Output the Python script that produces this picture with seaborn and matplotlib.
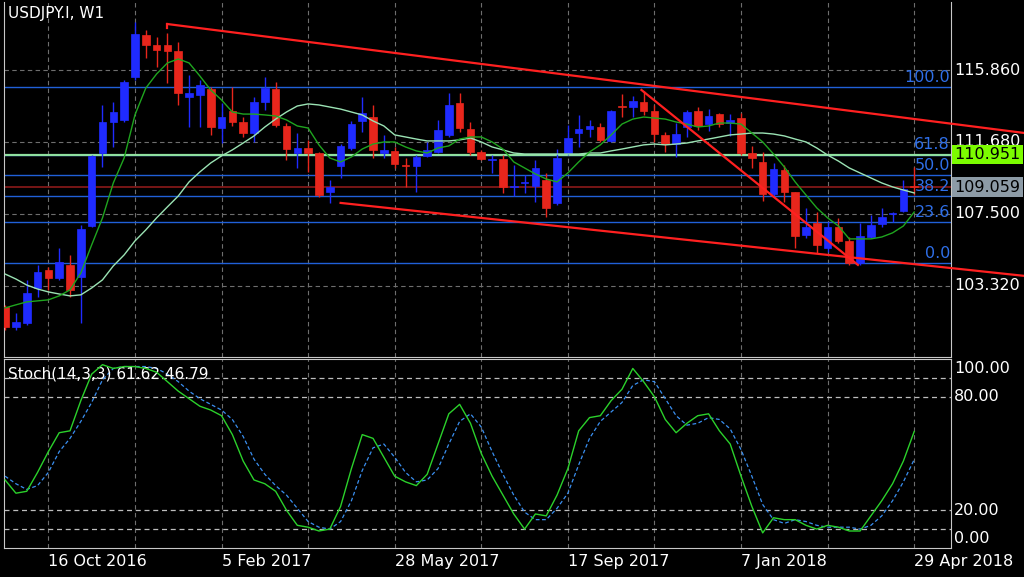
import numpy as np
import pandas as pd
import matplotlib
matplotlib.use("Agg")
import matplotlib.pyplot as plt
import seaborn as sns

# weekly USDJPY candles (open, high, low, close)
opens = [102.10, 100.94, 101.17, 103.20, 104.25, 103.78, 104.54, 103.84, 106.80, 111.04,
         112.84, 112.96, 115.45, 117.89, 117.31, 117.31, 116.96, 114.29, 114.41, 114.76,
         112.49, 113.48, 112.84, 112.20, 114.00, 114.76, 112.61, 111.04, 111.33, 111.04,
         108.78, 110.29, 111.33, 112.90, 113.13, 111.04, 111.16, 110.34, 110.29, 110.87,
         111.10, 112.09, 113.94, 112.43, 111.10, 110.63, 110.69, 109.07, 109.27, 109.12,
         109.47, 108.14, 111.04, 112.20, 112.43, 112.55, 111.74, 113.77, 113.71, 114.00,
         113.48, 112.09, 111.56, 112.55, 113.48, 112.72, 113.30, 112.78, 113.07, 111.04,
         110.52, 108.66, 110.05, 108.78, 106.28, 106.97, 105.52, 106.74, 105.93, 104.65,
         106.16, 106.92, 107.50, 107.67, 109.12]
highs = [102.22, 101.75, 103.67, 104.54, 104.42, 105.52, 105.12, 106.86, 110.92, 113.83,
         114.00, 115.28, 118.65, 118.18, 117.78, 118.01, 117.49, 115.57, 115.28, 114.87,
         113.94, 114.87, 113.13, 114.29, 115.45, 115.16, 112.78, 112.20, 111.80, 111.10,
         109.47, 111.56, 112.90, 114.29, 113.83, 112.09, 111.39, 110.75, 110.92, 111.68,
         112.96, 114.52, 114.52, 112.84, 111.22, 110.92, 110.92, 110.34, 109.76, 110.63,
         109.88, 111.27, 112.67, 113.25, 112.96, 112.78, 113.54, 114.47, 114.35, 114.64,
         113.83, 112.26, 112.78, 113.54, 113.71, 113.59, 113.36, 113.30, 113.36, 111.45,
         111.10, 110.46, 110.34, 108.80, 107.85, 107.61, 107.03, 107.27, 106.16, 106.97,
         107.44, 107.85, 107.61, 109.47, 110.23]
lows = [100.76, 100.76, 101.05, 102.68, 103.09, 103.67, 102.68, 101.17, 106.74, 110.23,
        111.39, 112.84, 115.28, 116.56, 116.03, 115.10, 113.83, 112.55, 112.55, 112.09,
        111.62, 112.61, 111.97, 111.68, 113.54, 112.55, 110.63, 110.17, 109.94, 108.49,
        108.14, 109.59, 111.22, 112.26, 110.75, 110.75, 110.17, 109.07, 108.78, 110.81,
        111.04, 111.97, 112.26, 110.92, 110.63, 109.88, 108.72, 108.54, 108.72, 108.20,
        107.33, 108.02, 110.92, 111.39, 111.97, 111.68, 111.68, 113.13, 113.13, 113.25,
        111.68, 111.10, 110.81, 111.97, 112.38, 112.32, 112.55, 112.03, 110.92, 110.17,
        108.25, 108.49, 108.20, 105.52, 106.11, 105.23, 105.29, 105.82, 104.54, 104.54,
        106.11, 106.74, 107.03, 107.61, 108.60]
closes = [100.94, 101.23, 102.91, 104.13, 103.78, 104.71, 103.09, 106.63, 110.87, 112.84,
          113.42, 115.16, 117.95, 117.31, 117.02, 116.96, 114.52, 114.52, 114.99, 112.55,
          113.13, 112.84, 112.20, 114.00, 114.82, 112.67, 111.27, 111.33, 111.04, 108.60,
          109.07, 111.45, 112.72, 113.36, 111.22, 111.22, 110.40, 110.29, 110.81, 111.22,
          112.38, 113.83, 112.49, 111.10, 110.69, 110.69, 109.07, 109.12, 109.33, 110.17,
          107.85, 110.75, 111.91, 112.43, 112.61, 111.80, 113.48, 113.71, 114.06, 113.48,
          112.14, 111.56, 112.14, 113.42, 112.61, 113.19, 112.72, 112.96, 111.04, 110.75,
          108.66, 110.11, 108.78, 106.22, 106.74, 105.70, 106.74, 105.93, 104.65, 106.22,
          106.86, 107.33, 107.56, 108.95, 109.059]
# moving averages as shown on the chart
ma_fast = [102.04, 102.22, 102.39, 102.45, 102.51, 102.74, 103.09, 104.07, 105.70, 107.27,
           109.30, 110.75, 113.25, 114.81, 115.63, 116.27, 116.50, 116.27, 115.51, 114.70,
           114.12, 113.42, 113.30, 113.30, 113.25, 113.19, 112.96, 112.61, 112.49, 111.51,
           110.75, 110.52, 110.81, 111.27, 111.56, 111.68, 111.68, 111.39, 111.16, 111.04,
           111.33, 111.45, 111.85, 111.97, 111.97, 111.68, 111.27, 110.52, 110.17, 109.82,
           109.53, 109.36, 109.88, 110.52, 111.10, 111.51, 112.09, 112.72, 113.01, 113.13,
           113.07, 113.01, 112.84, 112.72, 112.55, 112.61, 112.78, 112.78, 112.72, 112.20,
           111.68, 110.98, 110.23, 109.36, 108.60, 107.85, 107.27, 106.80, 106.05, 106.05,
           106.05, 106.16, 106.40, 106.80, 107.61]
ma_slow = [104.01, 103.72, 103.37, 103.14, 102.97, 102.85, 102.74, 102.80, 103.20, 103.67,
           104.48, 105.12, 105.93, 106.57, 107.27, 107.91, 108.54, 109.36, 109.94, 110.46,
           110.87, 111.22, 111.62, 112.03, 112.55, 113.01, 113.42, 113.77, 113.89, 113.83,
           113.71, 113.59, 113.42, 113.25, 112.90, 112.61, 112.09, 111.97, 111.85, 111.74,
           111.74, 111.74, 111.80, 111.91, 111.68, 111.39, 111.22, 111.04, 110.98, 110.98,
           110.98, 110.98, 110.98, 110.98, 111.04, 111.04, 111.16, 111.27, 111.39, 111.51,
           111.56, 111.51, 111.56, 111.62, 111.74, 111.85, 111.97, 112.09, 112.14, 112.20,
           112.20, 112.14, 112.03, 111.85, 111.68, 111.33, 110.92, 110.57, 110.17, 109.88,
           109.59, 109.30, 109.07, 108.89, 108.72]
stoch_k = [36, 29, 30, 40, 51, 61, 62, 78, 92, 97, 95, 96, 96, 95, 93, 88, 83, 79, 75, 73,
           70, 60, 46, 36, 34, 30, 20, 12, 11, 9, 10, 22, 42, 60, 58, 48, 38, 35, 33, 39,
           55, 71, 76, 66, 50, 38, 28, 18, 10, 18, 17, 28, 42, 62, 69, 70, 78, 84, 95, 88,
           80, 68, 61, 66, 70, 71, 62, 55, 38, 22, 8, 16, 15, 15, 12, 10, 12, 11, 9, 9,
           17, 25, 34, 46, 61.62]
stoch_d = [38, 34, 31, 33, 40, 51, 58, 67, 77, 89, 95, 96, 96, 96, 95, 92, 88, 83, 79, 76,
           73, 68, 59, 47, 39, 33, 28, 21, 14, 11, 10, 14, 25, 41, 53, 55, 48, 40, 35, 36,
           42, 55, 67, 71, 64, 51, 39, 28, 19, 15, 15, 21, 29, 44, 58, 67, 72, 77, 86, 89,
           88, 79, 70, 65, 66, 69, 68, 63, 52, 38, 23, 15, 13, 15, 14, 12, 11, 11, 11, 10,
           12, 17, 25, 35, 46.79]

price_ticks = [115.860, 111.680, 107.500, 103.320]
date_labels = ["16 Oct 2016", "5 Feb 2017", "28 May 2017", "17 Sep 2017", "7 Jan 2018", "29 Apr 2018"]
date_pos = [4, 20, 36, 52, 68, 84]
fib_levels = ["0.0", "23.6", "38.2", "50.0", "61.8", "100.0"]
fib_ratio = [0.0, 0.236, 0.382, 0.5, 0.618, 1.0]
fib_low, fib_high = 104.647, 114.847
alert_price = 110.951
last_price = 109.059
# drawn trend lines: (bar index, price) pairs
trend_upper = ([15.0, 94.2], [118.53, 112.20])
trend_lower = ([31.0, 94.2], [108.14, 103.90])
trend_steep = ([58.8, 78.8], [114.70, 104.54])

df = pd.DataFrame({"i": np.arange(len(closes)), "open": opens, "high": highs,
                   "low": lows, "close": closes, "fast": ma_fast, "slow": ma_slow,
                   "k": stoch_k, "d": stoch_d})

BG = "black"
UP = "#1f2bff"
DN = "#e8261c"
W, H = 1024, 577
fig = plt.figure(figsize=(W / 100, H / 100), dpi=100, facecolor=BG)
ax = fig.add_axes([4 / W, 1 - 357 / H, 947 / W, 355 / H], facecolor=BG)
ax2 = fig.add_axes([4 / W, 1 - 548 / H, 947 / W, 189 / H], facecolor=BG)

xmin, xmax = -0.1, 87.4
for a in (ax, ax2):
    a.set_xlim(xmin, xmax)
    for s in a.spines.values():
        s.set_color("#c8c8c8")
        s.set_linewidth(0.8)
    a.tick_params(left=False, right=False, bottom=False, top=False,
                  labelleft=False, labelbottom=False)
    for p in range(4, 88, 8):
        a.axvline(p, color="#6e6e6e", lw=0.8, ls=(0, (4, 3)), zorder=0)
ax.spines["top"].set_visible(False)

ymin, ymax = 99.19, 119.81
ax.set_ylim(ymin, ymax)
for p in price_ticks:
    ax.axhline(p, color="#6e6e6e", lw=0.8, ls=(0, (4, 3)), zorder=0)
    ax.text(xmax + 0.3, p, f"{p:.3f}", color="white", fontsize=11.5, va="center",
            ha="left", clip_on=False, zorder=7)

# fibonacci levels
for lab, r in zip(fib_levels, fib_ratio):
    lv = fib_low + r * (fib_high - fib_low)
    ax.axhline(lv, color="#2060d8", lw=1.0, zorder=1)
    ax.text(xmax - 0.1, lv + 0.12, lab, color="#2f6fe8", fontsize=11.5, ha="right",
            va="bottom", zorder=5)
ax.axhline(alert_price, color="#8fe0a0", lw=1.6, zorder=1)
ax.axhline(last_price, color="#8b1a1a", lw=1.2, zorder=1)
ax.text(xmax + 0.3, alert_price, f"{alert_price:.3f}", color="black", fontsize=11.5,
        va="center", ha="left", clip_on=False, zorder=9,
        bbox=dict(boxstyle="square,pad=0.15", fc="#7cfc00", ec="none"))
ax.text(xmax + 0.3, last_price, f"{last_price:.3f}", color="black", fontsize=11.5,
        va="center", ha="left", clip_on=False, zorder=9,
        bbox=dict(boxstyle="square,pad=0.15", fc="#8d9ba6", ec="none"))

# candles
colors = np.where(df.close >= df.open, UP, DN)
ax.vlines(df.i, df.low, df.high, colors=colors, lw=1.0, zorder=3)
body = (df.close - df.open).abs().clip(lower=0.06)
bottom = np.minimum(df.open, df.close)
ax.bar(df.i, body, bottom=bottom, width=0.7, color=colors, edgecolor=colors,
       lw=0.5, zorder=4)

sns.lineplot(data=df, x="i", y="slow", ax=ax, color="#9be3b4", lw=1.0, zorder=5)
sns.lineplot(data=df, x="i", y="fast", ax=ax, color="#1fa51f", lw=1.0, zorder=5)

for xs, ys in (trend_upper, trend_lower, trend_steep):
    ax.plot(xs, ys, color="#ff2020", lw=1.6, zorder=6, clip_on=False)
ax.plot([15.0, 15.0], [118.53, 118.3], color="#ff2020", lw=1.6, zorder=6)

ax.text(0.3, 119.55, "USDJPY.I, W1", color="white", fontsize=11, va="top", ha="left")
ax.set_xlabel("")
ax.set_ylabel("")

# stochastic
ax2.set_ylim(0, 100)
for lv in (10, 20, 80, 90):
    ax2.axhline(lv, color="#bdbdbd", lw=0.9, ls=(0, (4, 3)), zorder=1)
for lv, lab in ((100, "100.00"), (80, "80.00"), (20, "20.00"), (0, "0.00")):
    ax2.text(xmax + 0.3, lv + (-5 if lv == 100 else 5 if lv == 0 else 0), lab,
             color="white", fontsize=11.5, va="center", ha="left", clip_on=False)
sns.lineplot(data=df, x="i", y="d", ax=ax2, color="#3a8ff0", lw=0.9,
             linestyle=(0, (3, 2)), zorder=3)
sns.lineplot(data=df, x="i", y="k", ax=ax2, color="#2bd12b", lw=1.0, zorder=4)
ax2.text(0.3, 96, f"Stoch(14,3,3) {stoch_k[-1]:.2f} {stoch_d[-1]:.2f}", color="white",
         fontsize=11, va="top", ha="left")
ax2.set_xlabel("")
ax2.set_ylabel("")

for p, lab in zip(date_pos, date_labels):
    ax2.text(p, -3, lab, color="white", fontsize=11.5, ha="left", va="top",
             clip_on=False)

fig.savefig("out.png", dpi=100, facecolor=BG)
